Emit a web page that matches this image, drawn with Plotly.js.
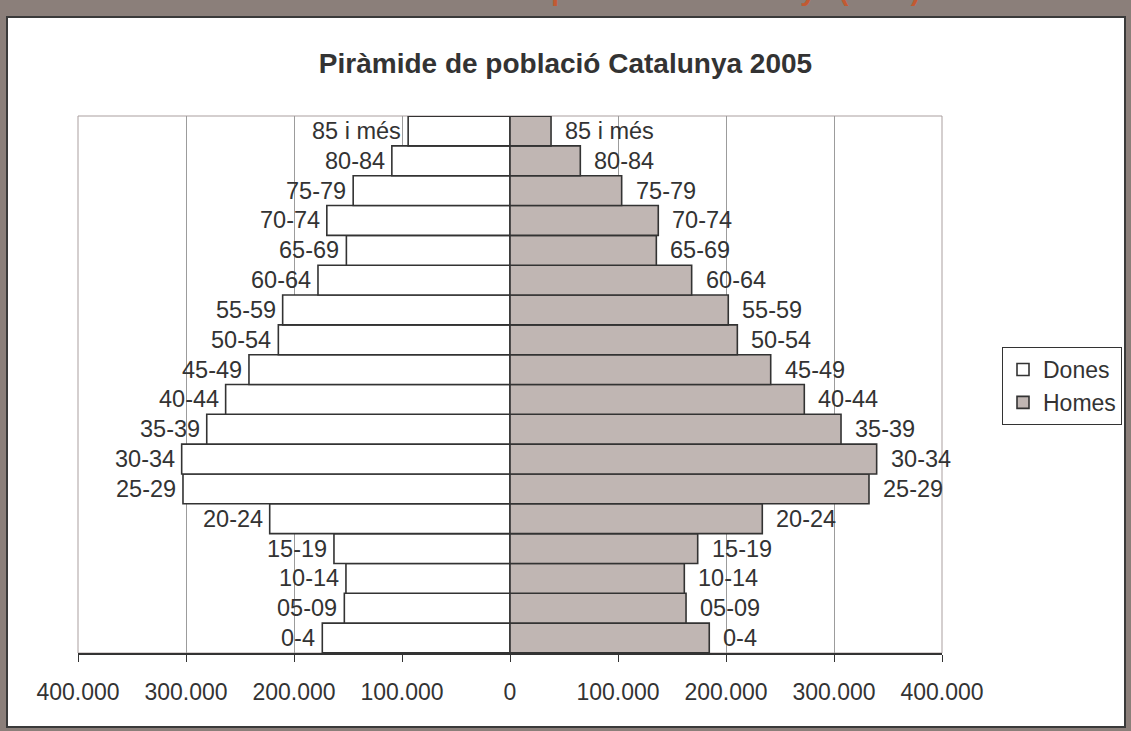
<!DOCTYPE html>
<html>
<head>
<meta charset="utf-8">
<script src="https://cdn.plot.ly/plotly-3.0.1.min.js"></script>
<style>
  html, body { margin: 0; padding: 0; background: #8b7f7a; }
  #chart { width: 1131px; height: 731px; }
</style>
</head>
<body>
<div id="chart"></div>
<script>
// ---- Data ----
const ageGroups = ['0-4', '05-09', '10-14', '15-19', '20-24', '25-29', '30-34', '35-39', '40-44',
                   '45-49', '50-54', '55-59', '60-64', '65-69', '70-74', '75-79', '80-84', '85 i més'];
const dones = [173800, 153400, 151900, 163000, 222500, 302800, 304000, 280800, 263300,
               241700, 214500, 210500, 177800, 151500, 169600, 145200, 109400, 94300];
const homes = [184500, 163000, 161400, 173800, 233600, 332400, 339500, 306500, 272500,
               241400, 210500, 202100, 168200, 135500, 137300, 103400, 65100, 38000];
const tickValues = [-400000, -300000, -200000, -100000, 0, 100000, 200000, 300000, 400000];
const tickLabels = ['400.000', '300.000', '200.000', '100.000', '0', '100.000', '200.000', '300.000', '400.000'];
const seriesNames = ['Dones', 'Homes'];
const chartTitle = 'Piràmide de població Catalunya 2005';
const pageTitle = 'Gràfic 3. Piràmide de població a Catalunya (2005)';

// ---- Layout geometry ----
const W = 1131, H = 731;
const M = { l: 78, r: 189, t: 116, b: 78, autoexpand: false };
const plotW = W - M.l - M.r, plotH = H - M.t - M.b;
const px = x => (x - M.l) / plotW;
const py = y => (H - M.b - y) / plotH;

const FONT = 'Arial, "Liberation Sans", sans-serif';
const TXT = '#333333';
const OUTLINE = '#333333';

const traces = [
  {
    type: 'bar', orientation: 'h', name: seriesNames[0],
    y: ageGroups, x: dones.map(v => -v),
    marker: { color: '#ffffff', line: { color: OUTLINE, width: 1.6 } },
    hoverinfo: 'skip'
  },
  {
    type: 'bar', orientation: 'h', name: seriesNames[1],
    y: ageGroups, x: homes,
    marker: { color: '#c0b6b3', line: { color: OUTLINE, width: 1.6 } },
    hoverinfo: 'skip'
  }
];

const annotations = [];
ageGroups.forEach((g, i) => {
  annotations.push({
    x: -dones[i], y: g, xref: 'x', yref: 'y', text: g, showarrow: false,
    xanchor: 'right', yanchor: 'middle', xshift: -5,
    font: { family: FONT, size: 23.5, color: TXT }
  });
  annotations.push({
    x: homes[i], y: g, xref: 'x', yref: 'y', text: g, showarrow: false,
    xanchor: 'left', yanchor: 'middle', xshift: 12,
    font: { family: FONT, size: 23.5, color: TXT }
  });
});
// partially visible heading above the chart frame
annotations.push({
  x: px(922), y: py(8), xref: 'paper', yref: 'paper', text: pageTitle, showarrow: false,
  xanchor: 'right', yanchor: 'bottom',
  font: { family: FONT, size: 28, color: '#c25a32', weight: 'bold' }
});

const shapes = [
  { type: 'rect', xref: 'paper', yref: 'paper', layer: 'below',
    x0: px(7), x1: px(1125), y0: py(727), y1: py(17),
    fillcolor: '#ffffff', line: { color: '#3a3a3a', width: 2 } },
  { type: 'rect', xref: 'paper', yref: 'paper', layer: 'below',
    x0: 0, x1: 1, y0: 0, y1: 1,
    fillcolor: 'rgba(0,0,0,0)', line: { color: '#aa9f9f', width: 1 } }
];

const layout = {
  width: W, height: H,
  margin: M,
  paper_bgcolor: '#8b7f7a',
  plot_bgcolor: 'rgba(0,0,0,0)',
  font: { family: FONT, color: TXT, size: 23 },
  title: {
    text: chartTitle, x: 0.5, xref: 'container', y: 1 - 63 / H, yanchor: 'middle',
    font: { family: FONT, size: 28, color: TXT, weight: 'bold' }
  },
  barmode: 'relative', bargap: 0,
  showlegend: true,
  legend: {
    x: px(1002), y: py(347), xanchor: 'left', yanchor: 'top',
    bgcolor: '#ffffff', bordercolor: '#333333', borderwidth: 1,
    font: { family: FONT, size: 23, color: TXT }
  },
  xaxis: {
    range: [-400000, 400000], tickmode: 'array', tickvals: tickValues, ticktext: tickLabels,
    showgrid: true, gridcolor: '#9c9c9c', gridwidth: 1, zeroline: false,
    showline: true, linecolor: '#333333', linewidth: 2,
    ticks: 'outside', ticklen: 7, tickcolor: '#333333', tickwidth: 1,
    ticklabelstandoff: 10,
    tickfont: { family: FONT, size: 23, color: TXT },
    fixedrange: true
  },
  yaxis: {
    type: 'category', categoryorder: 'array', categoryarray: ageGroups,
    showticklabels: false, ticks: '', showgrid: false, zeroline: false, showline: false,
    fixedrange: true
  },
  annotations: annotations,
  shapes: shapes
};

Plotly.newPlot('chart', traces, layout, { displayModeBar: false, staticPlot: true });
</script>
</body>
</html>
